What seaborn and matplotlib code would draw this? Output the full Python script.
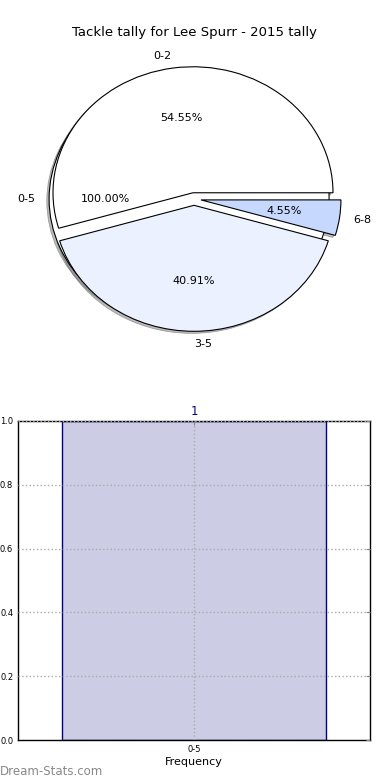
import matplotlib
matplotlib.use('Agg')
import matplotlib.pyplot as plt
import numpy as np
import pandas as pd
import seaborn as sns

# data
outer_labels = ['0-5']
outer_counts = [1]
inner_labels = ['0-2', '3-5', '6-8']
inner_counts = [12, 9, 1]
inner_colors = ['#ffffff', '#ebf1fe', '#c6d8fe']
bar_labels = ['0-5']
bar_freqs = [1]
y_ticks = [0.0, 0.2, 0.4, 0.6, 0.8, 1.0]

sns.set_style('white')
plt.rcParams['font.family'] = ['DejaVu Sans']
plt.rcParams.update({'text.color': 'black', 'axes.labelcolor': 'black',
                     'xtick.color': 'black', 'ytick.color': 'black'})

fig = plt.figure(figsize=(3.9, 7.8), dpi=100)

# pie chart (a full 0-5 pie underneath, the split pie on top)
ax_pie = fig.add_axes([19 / 390, 1 - 356.5 / 780, 350 / 390, 315 / 780])
wp = dict(edgecolor='black', linewidth=0.8)
tp = dict(fontsize=8, color='black')
shadow = dict(ox=-0.012, oy=-0.012, facecolor='#777777', edgecolor='#555555',
              linewidth=0.5)
ax_pie.pie(outer_counts, labels=outer_labels, autopct='%.2f%%', colors=['#ffffff'],
           explode=[0.035] * len(outer_counts), shadow=shadow, wedgeprops=wp,
           textprops=tp)
ax_pie.pie(inner_counts, labels=inner_labels, autopct='%.2f%%', colors=inner_colors,
           explode=[0.05] * len(inner_counts), shadow=shadow, wedgeprops=wp,
           textprops=tp)
ax_pie.set_aspect('auto')
ax_pie.set_xlim(-1.25, 1.25)
ax_pie.set_ylim(-1.25, 1.25)
ax_pie.set_title('Tackle tally for Lee Spurr - 2015 tally', fontsize=9.5, pad=4)

# bar chart
ax_bar = fig.add_axes([18 / 390, 1 - 740 / 780, 352 / 390, 319 / 780])
df = pd.DataFrame({'bin': bar_labels, 'freq': bar_freqs})
sns.barplot(data=df, x='bin', y='freq', color='#ccccE5', saturation=1,
            edgecolor='navy', linewidth=1, width=0.75, ax=ax_bar, zorder=2)
ax_bar.bar_label(ax_bar.containers[0], color='navy', fontsize=8.5, padding=2)
ax_bar.set_xlim(-0.5, 0.5)
ax_bar.set_ylim(0, 1.0)
ax_bar.set_yticks(y_ticks)
ax_bar.set_yticklabels([f'{v:.1f}' for v in y_ticks])
ax_bar.tick_params(direction='in', labelsize=6, top=True, right=True, length=3,
                   colors='#888888', labelcolor='black')
ax_bar.grid(True, linestyle=':', color='#aaaaaa', linewidth=1, zorder=3)
ax_bar.set_axisbelow(False)
for s in ax_bar.spines.values():
    s.set_color('black')
    s.set_linewidth(1)
ax_bar.set_xlabel('Frequency', fontsize=8, labelpad=2)
ax_bar.set_ylabel('')

fig.text(0.0, 0.006, 'Dream-Stats.com', color='#888888', fontsize=8.5)

fig.savefig('out.png', dpi=100)
